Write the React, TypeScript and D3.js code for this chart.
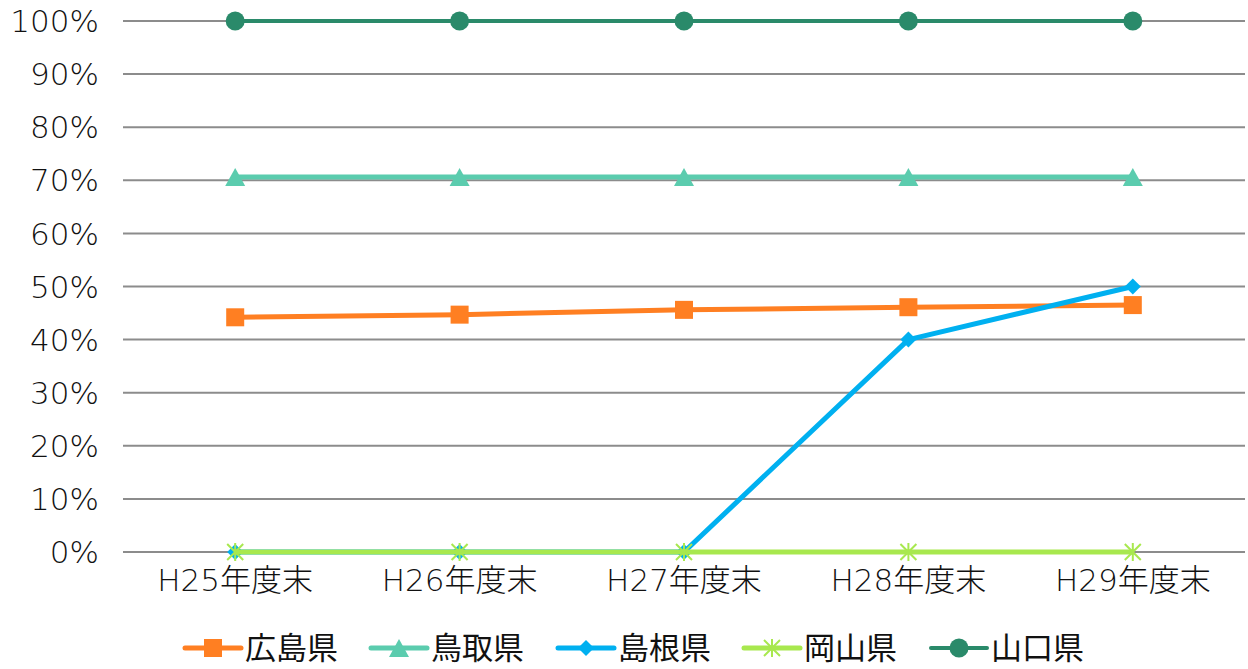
import React, { useEffect, useRef } from 'react';
import * as d3 from 'd3';

// categories and values (percent)
const categories = ['H25年度末', 'H26年度末', 'H27年度末', 'H28年度末', 'H29年度末'];
const yTicks = [0, 10, 20, 30, 40, 50, 60, 70, 80, 90, 100];

const hiroshima = [44.2, 44.7, 45.6, 46.1, 46.5];
const tottori = [70.6, 70.6, 70.6, 70.6, 70.6];
const shimane = [0, 0, 0, 40, 50];
const okayama = [0, 0, 0, 0, 0];
const yamaguchi = [100, 100, 100, 100, 100];

const seriesList = [
  { name: '広島県', values: hiroshima, color: '#FF7F22', marker: 'square', width: 5 },
  { name: '鳥取県', values: tottori, color: '#5BCCAE', marker: 'triangle', width: 5 },
  { name: '島根県', values: shimane, color: '#00B0F0', marker: 'diamond', width: 5 },
  { name: '岡山県', values: okayama, color: '#A8E84E', marker: 'star', width: 5 },
  { name: '山口県', values: yamaguchi, color: '#2A8A6A', marker: 'circle', width: 4 },
];

const W = 1248;
const H = 669;
const FONT = '"DejaVu Sans", "Noto Sans CJK JP", sans-serif';

const drawMarker = (g: any, type: string, color: string) => {
  if (type === 'square') {
    g.append('rect').attr('x', -9).attr('y', -9).attr('width', 18).attr('height', 18).attr('fill', color);
  } else if (type === 'triangle') {
    g.append('path').attr('d', 'M0,-9 L10,9 L-10,9 Z').attr('fill', color);
  } else if (type === 'diamond') {
    g.append('path').attr('d', 'M0,-8 L8,0 L0,8 L-8,0 Z').attr('fill', color);
  } else if (type === 'circle') {
    g.append('circle').attr('r', 9.5).attr('fill', color);
  } else if (type === 'star') {
    g.append('path')
      .attr('d', 'M-8,-8 L8,8 M-8,8 L8,-8 M0,-9 L0,9')
      .attr('stroke', color)
      .attr('stroke-width', 2)
      .attr('fill', 'none');
  }
};

const App = () => {
  const svgRef = useRef<SVGSVGElement>(null);

  useEffect(() => {
    if (!svgRef.current) return;
    const svg = d3.select(svgRef.current);
    svg.selectAll('*').remove();

    const margin = { left: 123, right: 3, top: 21, bottom: 117 };
    const x = d3.scaleBand().domain(categories).range([margin.left, W - margin.right]);
    const y = d3.scaleLinear().domain([0, 100]).range([H - margin.bottom, margin.top]);
    const cx = (c: string) => (x(c) as number) + x.bandwidth() / 2;

    // gridlines
    svg.append('g')
      .selectAll('line')
      .data(yTicks)
      .join('line')
      .attr('x1', margin.left)
      .attr('x2', W - margin.right)
      .attr('y1', d => y(d))
      .attr('y2', d => y(d))
      .attr('stroke', '#8C8C8C')
      .attr('stroke-width', 2);

    // y labels
    svg.append('g')
      .selectAll('text')
      .data(yTicks)
      .join('text')
      .attr('x', 99)
      .attr('y', d => y(d))
      .attr('dy', '0.36em')
      .attr('text-anchor', 'end')
      .style('font-family', FONT)
      .style('font-size', '31px')
      .style('font-weight', 200)
      .attr('fill', '#111')
      .text(d => `${d}%`);

    // x labels
    svg.append('g')
      .selectAll('text')
      .data(categories)
      .join('text')
      .attr('x', d => cx(d))
      .attr('y', y(0) + 39)
      .attr('text-anchor', 'middle')
      .style('font-family', FONT)
      .style('font-size', '31px')
      .style('font-weight', 200)
      .attr('fill', '#111')
      .text(d => d);

    const line = d3.line<number>()
      .x((_, i) => cx(categories[i]))
      .y(d => y(d));

    seriesList.forEach(s => {
      const g = svg.append('g');
      g.append('path')
        .attr('d', line(s.values))
        .attr('fill', 'none')
        .attr('stroke', s.color)
        .attr('stroke-width', s.width)
        .attr('stroke-linejoin', 'round');
      s.values.forEach((v, i) => {
        const m = g.append('g').attr('transform', `translate(${cx(categories[i])},${y(v)})`);
        drawMarker(m, s.marker, s.color);
      });
    });

    // legend
    const legendX = [185, 371, 558, 744, 931];
    const ly = 648;
    seriesList.forEach((s, i) => {
      const g = svg.append('g').attr('transform', `translate(${legendX[i]},${ly})`);
      g.append('line')
        .attr('x1', 0).attr('x2', 56)
        .attr('stroke', s.color)
        .attr('stroke-width', s.width)
        .attr('stroke-linecap', 'round');
      const m = g.append('g').attr('transform', 'translate(28,0)');
      drawMarker(m, s.marker, s.color);
      g.append('text')
        .attr('x', 60)
        .attr('dy', '0.36em')
        .style('font-family', FONT)
        .style('font-size', '31px')
        .attr('fill', '#111')
        .text(s.name);
    });
  }, []);

  return <svg ref={svgRef} width={W} height={H} style={{ position: 'absolute', left: 0, top: 0, background: '#fff' }} />;
};

export default App;
